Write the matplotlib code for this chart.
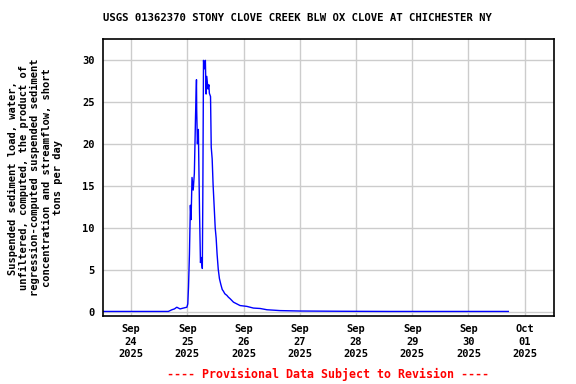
import matplotlib
matplotlib.use("Agg")
import matplotlib.pyplot as plt
import pandas as pd

# readings taken off the USGS plot: hours after 2025-09-24 00:00, short tons/day
hours = [-12.0, -6.0, 0.0, 8.0, 15.9, 17.4, 18.5, 19.5, 20.9, 22.3, 23.8, 24.2,
         24.5, 24.9, 25.3, 25.6, 26.0, 26.5, 27.0, 27.5, 27.9, 28.0, 28.3,
         28.7, 29.2, 29.6, 30.0, 30.4, 30.6, 30.9, 31.3, 31.7, 32.0, 32.3,
         32.8, 33.2, 33.4, 33.9, 34.2, 34.6, 35.0, 35.5, 35.9, 36.3, 36.7,
         37.2, 37.7, 38.3, 38.9, 39.4, 40.0, 40.9, 41.5, 42.3, 43.7, 45.1,
         46.5, 49.4, 52.2, 55.1, 58.0, 60.8, 63.6, 72.2, 90.0, 110.0, 130.0,
         150.0, 161.0]
load = [0.1, 0.1, 0.1, 0.1, 0.1, 0.3, 0.4, 0.6, 0.4, 0.5, 0.6, 1.0,
        3.0, 6.9, 12.7, 11.0, 16.0, 14.5, 16.5, 23.3, 27.6, 24.0, 20.0,
        21.7, 12.0, 5.9, 6.5, 5.2, 13.3, 29.9, 28.9, 29.9, 25.9, 28.0,
        26.5, 27.0, 26.0, 25.6, 19.6, 18.2, 15.1, 12.3, 10.0, 8.8, 6.9,
        5.1, 4.0, 3.3, 2.7, 2.5, 2.2, 2.0, 1.8, 1.6, 1.2, 1.0,
        0.8, 0.7, 0.5, 0.45, 0.3, 0.25, 0.2, 0.15, 0.12, 0.1, 0.1,
        0.1, 0.1]

start = pd.Timestamp("2025-09-24 00:00")
times = [start + pd.Timedelta(hours=h) for h in hours]

tick_days = pd.date_range("2025-09-24", "2025-10-01", freq="D")
tick_labels = [d.strftime("%b\n%d\n%Y") for d in tick_days]
y_ticks = [0, 5, 10, 15, 20, 25, 30]

title = "USGS 01362370 STONY CLOVE CREEK BLW OX CLOVE AT CHICHESTER NY"
ylab = ("Suspended sediment load, water,\n"
        "unfiltered, computed, the product of\n"
        "regression-computed suspended sediment\n"
        "concentration and streamflow, short\n"
        "tons per day")
footer = "---- Provisional Data Subject to Revision ----"

plt.rcParams['font.family'] = ['DejaVu Sans Mono']
plt.rcParams['font.weight'] = 'bold'
plt.rcParams['font.size'] = 7.5

fig = plt.figure(figsize=(5.76, 3.84), dpi=100)
ax = fig.add_axes([0.1788, 0.1771, 0.7830, 0.7206])

ax.plot(times, load, color='#0000ff', linewidth=1.0)

ax.set_xlim(pd.Timestamp("2025-09-23 12:00"), pd.Timestamp("2025-10-01 12:30"))
ax.set_ylim(-0.44, 32.4)
ax.set_xticks(tick_days)
ax.set_xticklabels(tick_labels, linespacing=1.3, fontweight='bold')
ax.set_yticks(y_ticks)
ax.set_yticklabels([str(v) for v in y_ticks], fontweight='bold')
ax.tick_params(length=0, pad=6)
ax.grid(True, color='#cccccc', linewidth=1.0)
ax.set_axisbelow(True)
for s in ax.spines.values():
    s.set_linewidth(1.2)

ax.set_ylabel(ylab, linespacing=1.15, labelpad=14, fontweight='bold')
fig.text(0.516, 0.952, title, ha='center', va='center', fontsize=7.65,
         fontweight='bold')
fig.text(0.569, 0.024, footer, ha='center', va='center', color='#ff0000',
         fontsize=8.4, fontweight='bold')

plt.savefig('out.png', dpi=100)
